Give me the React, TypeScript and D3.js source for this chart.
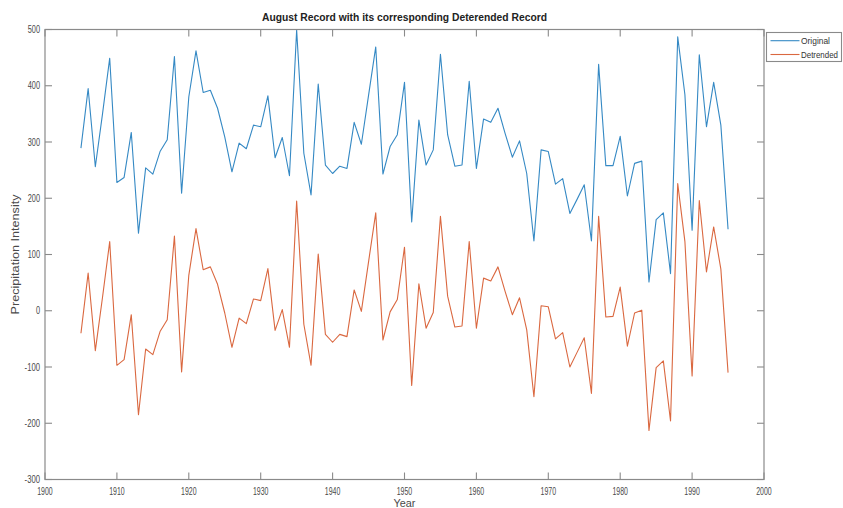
import React from "react";
import * as d3 from "d3";

const years: number[] = [
  1905, 1906, 1907, 1908, 1909, 1910, 1911, 1912, 1913, 1914, 1915, 1916, 1917, 1918, 1919,
  1920, 1921, 1922, 1923, 1924, 1925, 1926, 1927, 1928, 1929, 1930, 1931, 1932, 1933, 1934,
  1935, 1936, 1937, 1938, 1939, 1940, 1941, 1942, 1943, 1944, 1945, 1946, 1947, 1948, 1949,
  1950, 1951, 1952, 1953, 1954, 1955, 1956, 1957, 1958, 1959, 1960, 1961, 1962, 1963, 1964,
  1965, 1966, 1967, 1968, 1969, 1970, 1971, 1972, 1973, 1974, 1975, 1976, 1977, 1978, 1979,
  1980, 1981, 1982, 1983, 1984, 1985, 1986, 1987, 1988, 1989, 1990, 1991, 1992, 1993, 1994,
  1995,
];

const original: number[] = [
  289, 395, 256, 350, 449, 228, 237, 317, 138, 254, 243, 283, 304, 452, 209,
  380, 462, 388, 392, 360, 309, 247, 298, 288, 330, 327, 382, 272, 308, 240,
  499, 280, 206, 403, 259, 244, 257, 253, 335, 296, 383, 469, 243, 292, 313,
  406, 158, 339, 259, 286, 456, 313, 257, 259, 408, 253, 341, 335, 360, 315,
  273, 302, 244, 124, 286, 283, 225, 235, 173, 198, 224, 124, 438, 258, 258,
  310, 204, 262, 266, 51, 162, 174, 66, 487, 384, 143, 455, 327, 406, 330,
  145,
];

const detrended: number[] = [
  -40, 67, -71, 24, 123, -97, -87, -7, -185, -68, -78, -37, -16, 133, -109,
  63, 146, 73, 78, 47, -4, -65, -13, -23, 21, 18, 75, -35, 2, -65,
  195, -24, -97, 101, -42, -56, -42, -46, 37, -1, 87, 174, -52, -2, 20,
  113, -133, 48, -31, -3, 168, 26, -29, -27, 123, -31, 58, 53, 78, 34,
  -7, 23, -34, -153, 9, 7, -50, -39, -100, -74, -48, -147, 168, -11, -10,
  42, -63, -4, 1, -213, -101, -89, -196, 226, 123, -116, 196, 69, 149, 74,
  -110,
];

const xTicks: number[] = [1900, 1910, 1920, 1930, 1940, 1950, 1960, 1970, 1980, 1990, 2000];
const yTicks: number[] = [-300, -200, -100, 0, 100, 200, 300, 400, 500];

const seriesNames: string[] = ["Original", "Detrended"];
const titleText = "August Record with its corresponding Deterended Record";
const xLabel = "Year";
const yLabel = "Precipitation Intensity";

const W = 843;
const H = 508;
const L = 45;
const R = 764;
const T = 29.5;
const B = 479.5;

const BLUE = "#3589c4";
const ORANGE = "#da6840";
const AXIS = "#8a8a8a";
const TXT = "#4a4a4a";
const FONT = "'Liberation Sans', Arial, Helvetica, sans-serif";

export default function App() {
  const x = d3.scaleLinear().domain([1900, 2000]).range([L, R]);
  const y = d3.scaleLinear().domain([-300, 500]).range([B, T]);

  const line = d3
    .line<[number, number]>()
    .x((d) => x(d[0]))
    .y((d) => y(d[1]));

  const origPath = line(years.map((yr, i) => [yr, original[i]] as [number, number])) || "";
  const detPath = line(years.map((yr, i) => [yr, detrended[i]] as [number, number])) || "";

  const tickLen = 7;

  return (
    <svg
      width={W}
      height={H}
      style={{ position: "absolute", left: 0, top: 0, background: "#fff" }}
      fontFamily={FONT}
    >
      <rect x={0} y={0} width={W} height={H} fill="#fff" />

      {/* series */}
      <path d={origPath} fill="none" stroke={BLUE} strokeWidth={1.1} strokeLinejoin="round" />
      <path d={detPath} fill="none" stroke={ORANGE} strokeWidth={1.1} strokeLinejoin="round" />

      {/* box */}
      <rect x={L} y={T} width={R - L} height={B - T} fill="none" stroke={AXIS} strokeWidth={1.2} />

      {/* x ticks */}
      {xTicks.map((t) => (
        <g key={"xt" + t}>
          <line x1={x(t)} x2={x(t)} y1={B} y2={B - tickLen} stroke={AXIS} strokeWidth={1.1} />
          <line x1={x(t)} x2={x(t)} y1={T} y2={T + tickLen} stroke={AXIS} strokeWidth={1.1} />
          <text
            x={x(t)}
            y={494.5}
            textAnchor="middle"
            fontSize={10.5}
            fill={TXT}
            textLength={15.5}
            lengthAdjust="spacingAndGlyphs"
          >
            {String(t)}
          </text>
        </g>
      ))}

      {/* y ticks */}
      {yTicks.map((t) => {
        const s = String(t);
        const len = s.length * 4.1 + (t < 0 ? -1 : 0);
        return (
          <g key={"yt" + t}>
            <line x1={L} x2={L + tickLen} y1={y(t)} y2={y(t)} stroke={AXIS} strokeWidth={1.1} />
            <line x1={R} x2={R - tickLen} y1={y(t)} y2={y(t)} stroke={AXIS} strokeWidth={1.1} />
            <text
              x={40}
              y={y(t) + 3.7}
              textAnchor="end"
              fontSize={10.5}
              fill={TXT}
              textLength={len}
              lengthAdjust="spacingAndGlyphs"
            >
              {s}
            </text>
          </g>
        );
      })}

      {/* title */}
      <text
        x={(L + R) / 2}
        y={21}
        textAnchor="middle"
        fontSize={11.5}
        fontWeight="bold"
        fill="#222"
        textLength={285}
        lengthAdjust="spacingAndGlyphs"
      >
        {titleText}
      </text>

      {/* axis labels */}
      <text
        x={(L + R) / 2}
        y={506.5}
        textAnchor="middle"
        fontSize={11}
        fill={TXT}
        textLength={22}
        lengthAdjust="spacingAndGlyphs"
      >
        {xLabel}
      </text>
      <text
        transform={`translate(19,${(T + B) / 2}) rotate(-90)`}
        textAnchor="middle"
        fontSize={11}
        fill={TXT}
        textLength={120}
        lengthAdjust="spacingAndGlyphs"
      >
        {yLabel}
      </text>

      {/* legend */}
      <rect x={766.5} y={32.5} width={75} height={29} fill="#fff" stroke={AXIS} strokeWidth={1.1} />
      {seriesNames.map((name, i) => {
        const ly = i === 0 ? 40.7 : 54.5;
        const col = i === 0 ? BLUE : ORANGE;
        return (
          <g key={name}>
            <line x1={770.5} x2={799.5} y1={ly} y2={ly} stroke={col} strokeWidth={1.1} />
            <text
              x={801}
              y={ly + 3.2}
              fontSize={8.6}
              fill="#333"
              textLength={i === 0 ? 29 : 37}
              lengthAdjust="spacingAndGlyphs"
            >
              {name}
            </text>
          </g>
        );
      })}
    </svg>
  );
}
